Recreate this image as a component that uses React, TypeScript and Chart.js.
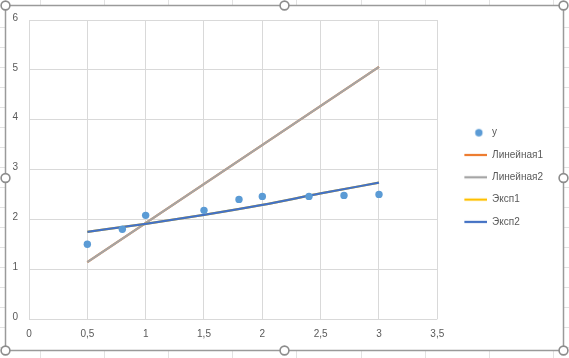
import React, { useEffect, useRef } from 'react';
import { Chart, registerables } from 'chart.js';

Chart.register(...registerables);

// ---- data ----
const xValues = [0.5, 0.8, 1, 1.5, 1.8, 2, 2.4, 2.7, 3];
const yValues = [1.5, 1.8, 2.08, 2.18, 2.4, 2.46, 2.46, 2.48, 2.5];
const linearX = [0.5, 3];
const linearY = [1.14, 5.06];
const expX = [0.5, 1, 1.5, 2, 2.5, 3];
const expY = [1.75, 1.91, 2.09, 2.29, 2.52, 2.735];
const xTickValues = [0, 0.5, 1, 1.5, 2, 2.5, 3, 3.5];
const xTickLabels = ['0', '0,5', '1', '1,5', '2', '2,5', '3', '3,5'];
const yTickValues = [0, 1, 2, 3, 4, 5, 6];
const yTickLabels = ['0', '1', '2', '3', '4', '5', '6'];
const seriesNames = ['y', 'Линейная1', 'Линейная2', 'Эксп1', 'Эксп2'];
const seriesColors = ['#5B9BD5', '#ED7D31', '#A5A5A5', '#FFC000', '#4472C4'];

const FONT = 'Liberation Sans, Arial, sans-serif';
const TEXT = '#595959';
const GRID = '#D9D9D9';

function toPoints(xs: number[], ys: number[]) {
  return xs.map((x, i) => ({ x, y: ys[i] }));
}

function lineIcon(color: string): HTMLCanvasElement {
  const c = document.createElement('canvas');
  c.width = 38;
  c.height = 6;
  const g = c.getContext('2d')!;
  g.strokeStyle = color;
  g.lineWidth = 2.25;
  g.beginPath();
  g.moveTo(15, 3);
  g.lineTo(38, 3);
  g.stroke();
  return c;
}

function dotIcon(color: string): HTMLCanvasElement {
  const c = document.createElement('canvas');
  c.width = 38;
  c.height = 10;
  const g = c.getContext('2d')!;
  g.fillStyle = color;
  g.beginPath();
  g.arc(29.5, 5, 3.7, 0, Math.PI * 2);
  g.fill();
  return c;
}

const framePlugin = {
  id: 'excelFrame',
  afterDraw(chart: any) {
    const ctx = chart.ctx as CanvasRenderingContext2D;
    const W = chart.width;
    const H = chart.height;
    const L = 5.5, T = 5.5, R = 563.5, B = 350.5;
    ctx.save();
    // spreadsheet cell grid visible around the chart object
    ctx.strokeStyle = '#E2E2E2';
    ctx.lineWidth = 1;
    ctx.beginPath();
    for (let x = 39.5; x < W; x += 64.2) {
      const px = Math.round(x) + 0.5;
      ctx.moveTo(px, 0);
      ctx.lineTo(px, T);
      ctx.moveTo(px, B);
      ctx.lineTo(px, H);
    }
    for (let y = 26.7; y < H; y += 20) {
      const py = Math.round(y) + 0.5;
      ctx.moveTo(0, py);
      ctx.lineTo(L, py);
      ctx.moveTo(R, py);
      ctx.lineTo(W, py);
    }
    ctx.stroke();
    // selection frame
    ctx.strokeStyle = '#9A9A9A';
    ctx.lineWidth = 1.5;
    ctx.strokeRect(L, T, R - L, B - T);
    // handles
    const mx = 284.5;
    const my = 178;
    const handles = [
      [L, T], [mx, T], [R, T],
      [L, my], [R, my],
      [L, B], [mx, B], [R, B],
    ];
    ctx.fillStyle = '#FFFFFF';
    ctx.strokeStyle = '#8C8C8C';
    ctx.lineWidth = 1.6;
    for (const [hx, hy] of handles) {
      ctx.beginPath();
      ctx.arc(hx, hy, 4.4, 0, Math.PI * 2);
      ctx.fill();
      ctx.stroke();
    }
    ctx.restore();
  },
};

export default function App() {
  const canvasRef = useRef<HTMLCanvasElement | null>(null);

  useEffect(() => {
    const canvas = canvasRef.current;
    if (!canvas) return;
    const icons = [
      dotIcon(seriesColors[0]),
      lineIcon(seriesColors[1]),
      lineIcon(seriesColors[2]),
      lineIcon(seriesColors[3]),
      lineIcon(seriesColors[4]),
    ];
    const chart = new Chart(canvas, {
      type: 'scatter',
      data: {
        datasets: [
          {
            label: seriesNames[0],
            data: toPoints(xValues, yValues),
            backgroundColor: seriesColors[0],
            borderColor: seriesColors[0],
            pointRadius: 3.7,
            pointBorderWidth: 0,
            showLine: false,
            order: 0,
          },
          {
            label: seriesNames[1],
            data: toPoints(linearX, linearY),
            borderColor: seriesColors[1],
            backgroundColor: seriesColors[1],
            borderWidth: 2.25,
            pointRadius: 0,
            showLine: true,
            order: 4,
          },
          {
            label: seriesNames[2],
            data: toPoints(linearX, linearY),
            borderColor: seriesColors[2],
            backgroundColor: seriesColors[2],
            borderWidth: 2.25,
            pointRadius: 0,
            showLine: true,
            order: 3,
          },
          {
            label: seriesNames[3],
            data: toPoints(expX, expY),
            borderColor: seriesColors[3],
            backgroundColor: seriesColors[3],
            borderWidth: 2.25,
            pointRadius: 0,
            showLine: true,
            cubicInterpolationMode: 'monotone',
            order: 2,
          },
          {
            label: seriesNames[4],
            data: toPoints(expX, expY),
            borderColor: seriesColors[4],
            backgroundColor: seriesColors[4],
            borderWidth: 2.25,
            pointRadius: 0,
            showLine: true,
            cubicInterpolationMode: 'monotone',
            order: 1,
          },
        ] as any,
      },
      options: {
        responsive: false,
        animation: false,
        devicePixelRatio: 1,
        layout: { padding: { left: 0, top: 0, right: 16, bottom: 3.4 } },
        plugins: {
          tooltip: { enabled: false },
          legend: {
            position: 'right',
            labels: {
              usePointStyle: true,
              pointStyleWidth: 37.5,
              padding: 12.3,
              color: TEXT,
              font: { family: FONT, size: 10 },
              generateLabels: () =>
                seriesNames.map((name, i) => ({
                  text: name,
                  pointStyle: icons[i] as any,
                  datasetIndex: i,
                  hidden: false,
                  fillStyle: 'rgba(0,0,0,0)',
                  strokeStyle: 'rgba(0,0,0,0)',
                  lineWidth: 0,
                  fontColor: TEXT,
                })),
            },
          },
        },
        scales: {
          x: {
            type: 'linear',
            min: 0,
            max: 3.5,
            afterBuildTicks: (scale: any) => {
              scale.ticks = xTickValues.map((v) => ({ value: v }));
            },
            afterFit: (scale: any) => {
              scale.height = 358 - 3.4 - 319;
            },
            ticks: {
              color: TEXT,
              font: { family: FONT, size: 10 },
              padding: 9,
              maxRotation: 0,
              autoSkip: false,
              callback: (v: any) => {
                const i = xTickValues.indexOf(Number(v));
                return i >= 0 ? xTickLabels[i] : '';
              },
            },
            grid: { color: GRID, lineWidth: 1, drawTicks: false },
            border: { display: false },
          },
          y: {
            type: 'linear',
            min: 0,
            max: 6,
            afterBuildTicks: (scale: any) => {
              scale.ticks = yTickValues.map((v) => ({ value: v }));
            },
            afterFit: (scale: any) => {
              scale.width = 29;
              scale.paddingTop = 20;
            },
            ticks: {
              color: TEXT,
              font: { family: FONT, size: 10 },
              padding: 11,
              labelOffset: -2,
              autoSkip: false,
              callback: (v: any) => {
                const i = yTickValues.indexOf(Number(v));
                return i >= 0 ? yTickLabels[i] : '';
              },
            },
            grid: { color: GRID, lineWidth: 1, drawTicks: false },
            border: { display: false },
          },
        },
      } as any,
      plugins: [framePlugin],
    });
    return () => chart.destroy();
  }, []);

  return (
    <div style={{ position: 'fixed', left: 0, top: 0, width: 569, height: 358, background: '#FFFFFF' }}>
      <canvas ref={canvasRef} width={569} height={358} style={{ display: 'block', width: 569, height: 358 }} />
    </div>
  );
}
